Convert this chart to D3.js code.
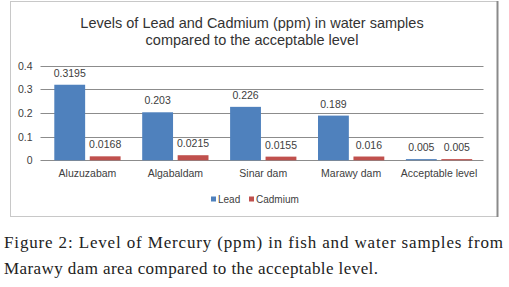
<!DOCTYPE html>
<html><head><meta charset="utf-8">
<script src="https://cdn.jsdelivr.net/npm/d3@7"></script>
<style>body{margin:0;background:#fff}svg{display:block}</style>
</head><body>
<svg id="c" width="509" height="287"></svg>
<script>
const categories = ["Aluzuzabam","Algabaldam","Sinar dam","Marawy dam","Acceptable level"];
const seriesNames = ["Lead","Cadmium"];
const lead = [0.3195,0.203,0.226,0.189,0.005];
const cadmium = [0.0168,0.0215,0.0155,0.016,0.005];
const leadLabels = ["0.3195","0.203","0.226","0.189","0.005"];
const cadmiumLabels = ["0.0168","0.0215","0.0155","0.016","0.005"];
const yTicks = [0,0.1,0.2,0.3,0.4];
const yTickLabels = ["0","0.1","0.2","0.3","0.4"];
const titleLines = ["Levels of Lead and Cadmium (ppm) in water samples","compared to the acceptable level"];
const captionLines = ["Figure 2: Level of Mercury (ppm) in fish and water samples from","Marawy dam area compared to the acceptable level."];
const colors = ["#4f81bd","#c0504d"];

const svg = d3.select("#c");
const sans = "'Liberation Sans', Arial, sans-serif";

// frame
svg.append("rect").attr("x",10.5).attr("y",1.5).attr("width",487).attr("height",215)
  .attr("fill","#fff").attr("stroke","#c8c8c8");
svg.append("line").attr("x1",497.5).attr("x2",497.5).attr("y1",1).attr("y2",217)
  .attr("stroke","#8a8a8a").attr("stroke-width",2);

const x = d3.scaleBand().domain(categories).range([43.5,483]);
const y = d3.scaleLinear().domain([0,0.4]).range([160.3,65.7]);
const sub = d3.scaleBand().domain(seriesNames).range([10.8, x.bandwidth()-10.8]).paddingInner(0.13);

// gridlines
svg.append("g").selectAll("line").data(yTicks).join("line")
  .attr("x1",40.5).attr("x2",483.5)
  .attr("y1",d=>Math.round(y(d))+0.5).attr("y2",d=>Math.round(y(d))+0.5)
  .attr("stroke","#8c8c8c").attr("stroke-width",1);

// y axis labels
const yAxis = d3.axisLeft(y).tickValues(yTicks).tickFormat((d,i)=>yTickLabels[i]).tickSize(0).tickPadding(0);
const ga = svg.append("g").attr("transform","translate(32.5,0)").call(yAxis);
ga.select(".domain").remove();
ga.selectAll("text").attr("font-family",sans).attr("font-size",10.5).attr("fill","#404040");

// bars
const data = [lead, cadmium];
const labels = [leadLabels, cadmiumLabels];
data.forEach((vals,si)=>{
  const g = svg.append("g");
  g.selectAll("rect").data(vals).join("rect")
    .attr("x",(d,i)=>x(categories[i])+sub(seriesNames[si]))
    .attr("width",sub.bandwidth())
    .attr("y",d=>y(d)).attr("height",d=>y(0)-y(d))
    .attr("fill",colors[si]);
  g.selectAll("text").data(vals).join("text")
    .attr("x",(d,i)=>x(categories[i])+sub(seriesNames[si])+sub.bandwidth()/2)
    .attr("y",d=>y(d)-8)
    .attr("text-anchor","middle").attr("font-family",sans).attr("font-size",10.5)
    .attr("fill","#404040").text((d,i)=>labels[si][i]);
});

// x axis labels
const xAxis = d3.axisBottom(x).tickSize(0).tickPadding(0);
const gx = svg.append("g").attr("transform","translate(0,170)").call(xAxis);
gx.select(".domain").remove();
gx.selectAll("text").attr("font-family",sans).attr("font-size",10.5).attr("fill","#404040");

// title
svg.append("g").selectAll("text").data(titleLines).join("text")
  .attr("x",252).attr("y",(d,i)=>27.5+i*17.5).attr("text-anchor","middle")
  .attr("font-family",sans).attr("font-size",14.5).attr("fill","#333").text(d=>d);

// legend
const legX = [211,249];
const lg = svg.append("g");
seriesNames.forEach((n,i)=>{
  lg.append("rect").attr("x",legX[i]).attr("y",196.5).attr("width",5).attr("height",5).attr("fill",colors[i]);
  lg.append("text").attr("x",legX[i]+7).attr("y",202.5).attr("font-family",sans).attr("font-size",10)
    .attr("fill","#404040").text(n);
});

// caption
const serif = "'Liberation Serif','Times New Roman',serif";
svg.append("text").attr("x",4).attr("y",247.5).attr("font-family",serif).attr("font-size",17)
  .attr("fill","#222").attr("textLength",499).attr("lengthAdjust","spacing").text(captionLines[0]);
svg.append("text").attr("x",4).attr("y",274).attr("font-family",serif).attr("font-size",17)
  .attr("fill","#222").attr("textLength",374).attr("lengthAdjust","spacing").text(captionLines[1]);
</script>
</body></html>
